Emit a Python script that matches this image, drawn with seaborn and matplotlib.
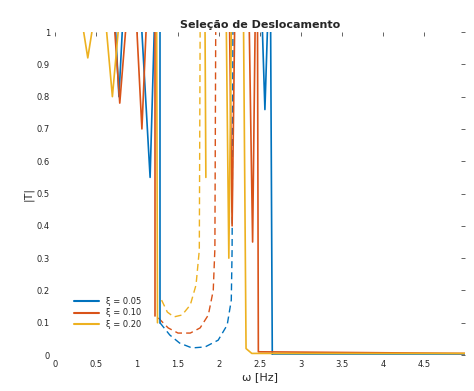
import numpy as np
import pandas as pd
import seaborn as sns
import matplotlib
matplotlib.use("Agg")
import matplotlib.pyplot as plt
from matplotlib.lines import Line2D

series_names = ["ξ = 0.05", "ξ = 0.10", "ξ = 0.20"]
colors = ["#0072BD", "#D95319", "#EDB120"]

# dashed U-shaped curves (x, y)
blue_dash_x = [1.28, 1.40, 1.52, 1.67, 1.83, 1.99, 2.10, 2.15, 2.16, 2.17]
blue_dash_y = [0.10, 0.062, 0.037, 0.022, 0.025, 0.046, 0.093, 0.17, 0.33, 1.0]
orange_dash_x = [1.26, 1.38, 1.50, 1.65, 1.77, 1.87, 1.93, 1.95, 1.96]
orange_dash_y = [0.115, 0.084, 0.068, 0.068, 0.084, 0.124, 0.20, 0.33, 1.0]
yellow_dash_x = [1.30, 1.37, 1.45, 1.55, 1.65, 1.72, 1.76, 1.77]
yellow_dash_y = [0.17, 0.133, 0.118, 0.124, 0.155, 0.217, 0.325, 1.0]

# solid segments (list of (x list, y list))
blue_solid = [
    ([0.74, 0.78, 0.82], [1.0, 0.80, 1.0]),
    ([1.06, 1.16, 1.21], [1.0, 0.55, 1.0]),
    ([1.28, 1.28], [1.0, 0.10]),
    ([2.53, 2.56, 2.59], [1.0, 0.76, 1.0]),
    ([2.63, 2.65, 5.0], [1.0, 0.0, 0.0]),
]
orange_solid = [
    ([0.73, 0.79, 0.86], [1.0, 0.78, 1.0]),
    ([1.00, 1.06, 1.11], [1.0, 0.70, 1.0]),
    ([1.22, 1.22], [1.0, 0.12]),
    ([2.13, 2.16, 2.19], [1.0, 0.40, 1.0]),
    ([2.37, 2.41, 2.44], [1.0, 0.35, 1.0]),
    ([2.47, 2.48, 5.0], [1.0, 0.01, 0.005]),
]
yellow_solid = [
    ([0.35, 0.40, 0.45], [1.0, 0.92, 1.0]),
    ([0.63, 0.70, 0.77], [1.0, 0.80, 1.0]),
    ([1.24, 1.25], [1.0, 0.10]),
    ([1.83, 1.84], [1.0, 0.55]),
    ([2.09, 2.12, 2.15], [1.0, 0.30, 1.0]),
    ([2.30, 2.33, 2.40, 5.0], [1.0, 0.02, 0.005, 0.005]),
]

x_ticks = [0, 0.5, 1, 1.5, 2, 2.5, 3, 3.5, 4, 4.5]
y_ticks = [0, 0.1, 0.2, 0.3, 0.4, 0.5, 0.6, 0.7, 0.8, 0.9, 1]

rows_s = []
for name, segs in zip(series_names, [blue_solid, orange_solid, yellow_solid]):
    for k, (xs, ys) in enumerate(segs):
        for i, (a, b) in enumerate(zip(xs, ys)):
            rows_s.append(dict(x=a, y=b, serie=name, seg=f"{name}-{k}", order=i))
df_solid = pd.DataFrame(rows_s)

rows_d = []
for name, xs, ys in zip(series_names,
                        [blue_dash_x, orange_dash_x, yellow_dash_x],
                        [blue_dash_y, orange_dash_y, yellow_dash_y]):
    for i, (a, b) in enumerate(zip(xs, ys)):
        rows_d.append(dict(x=a, y=b, serie=name, seg=name, order=i))
df_dash = pd.DataFrame(rows_d)

sns.set_style("white")
plt.rcParams['font.family'] = ['DejaVu Sans']
fig = plt.figure(figsize=(4.74, 3.91), dpi=100)
ax = fig.add_axes([0.116, 0.092, 0.865, 0.826])
pal = dict(zip(series_names, colors))

sns.lineplot(data=df_dash, x="x", y="y", hue="serie", units="seg",
             estimator=None, sort=False, palette=pal, linewidth=1.0,
             linestyle=(0, (5, 3)), legend=False, ax=ax)
sns.lineplot(data=df_solid, x="x", y="y", hue="serie", units="seg",
             estimator=None, sort=False, palette=pal, linewidth=1.2,
             legend=False, ax=ax)

ax.set_xlim(0, 5)
ax.set_ylim(0, 1)
ax.set_xticks(x_ticks)
ax.set_xticklabels([f"{t:g}" for t in x_ticks], fontsize=6)
ax.set_yticks(y_ticks)
ax.set_yticklabels([f"{t:g}" for t in y_ticks], fontsize=6)
ax.tick_params(direction="in", length=3, width=0.5, top=True, right=True)
for s in ax.spines.values():
    s.set_visible(False)
ax.set_xlabel("ω [Hz]", fontsize=8, labelpad=2)
ax.set_ylabel("|T|", fontsize=8, labelpad=2)
ax.set_title("Seleção de Deslocamento", fontsize=8, fontweight="bold", pad=3)

handles = [Line2D([0], [0], color=c, lw=1.5) for c in colors]
leg = ax.legend(handles, series_names, loc="lower left",
                bbox_to_anchor=(0.03, 0.06), fontsize=6, frameon=True,
                handlelength=3, borderpad=0.3, labelspacing=0.3)
leg.get_frame().set_edgecolor("none")
leg.get_frame().set_facecolor("white")
leg.get_frame().set_alpha(1)

fig.savefig("out.png", dpi=100)
